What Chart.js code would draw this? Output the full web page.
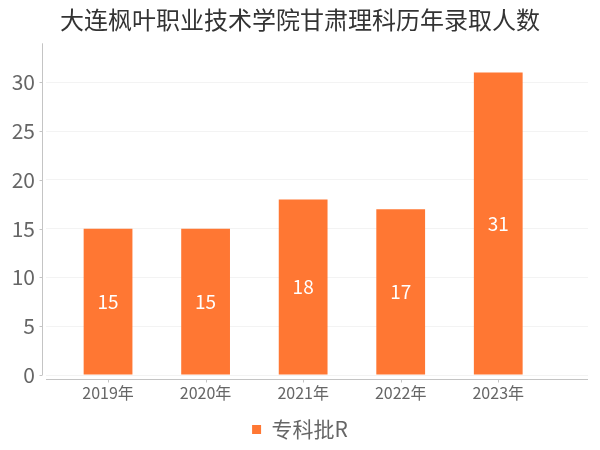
<!DOCTYPE html>
<html>
<head>
<meta charset="utf-8">
<script src="https://cdn.jsdelivr.net/npm/chart.js@4"></script>
<style>
  html, body { margin: 0; padding: 0; background: #fff; }
  #wrap { width: 600px; height: 450px; }
</style>
</head>
<body>
<div id="wrap"><canvas id="chart" width="600" height="450"></canvas></div>
<script>
// 数据
const years = ["2019年", "2020年", "2021年", "2022年", "2023年"];
const counts = [15, 15, 18, 17, 31];
const yTicks = [0, 5, 10, 15, 20, 25, 30];
const seriesName = "专科批R";
const titleText = "大连枫叶职业技术学院甘肃理科历年录取人数";

const FONT = "'Noto Sans CJK SC', 'Noto Sans', sans-serif";
const barColor = "#ff7733";
const axisColor = "#c4c4c4";

// 坐标轴线（与绘图区略微错开）
const axisLines = {
  id: "axisLines",
  afterDraw(chart) {
    const { ctx, chartArea, scales } = chart;
    const gap = 4;
    ctx.save();
    ctx.strokeStyle = axisColor;
    ctx.lineWidth = 1;
    // y 轴
    const ax = Math.round(chartArea.left - gap) + 0.5;
    ctx.beginPath();
    ctx.moveTo(ax, chartArea.top);
    ctx.lineTo(ax, chartArea.bottom);
    scales.y.ticks.forEach(t => {
      const py = Math.round(scales.y.getPixelForValue(t.value)) + 0.5;
      ctx.moveTo(ax - 3, py);
      ctx.lineTo(ax, py);
    });
    ctx.stroke();
    // x 轴
    const ay = Math.round(chartArea.bottom + gap) + 0.5;
    ctx.beginPath();
    ctx.moveTo(chartArea.left, ay);
    ctx.lineTo(chartArea.right, ay);
    scales.x.ticks.forEach(t => {
      const px = Math.round(scales.x.getPixelForValue(t.value)) + 0.5;
      ctx.moveTo(px, ay);
      ctx.lineTo(px, ay + 3);
    });
    ctx.stroke();
    ctx.restore();
  }
};

// 柱内数值
const barValues = {
  id: "barValues",
  afterDatasetsDraw(chart) {
    const { ctx } = chart;
    const meta = chart.getDatasetMeta(0);
    ctx.save();
    ctx.fillStyle = "#ffffff";
    ctx.font = "19px " + FONT;
    ctx.textAlign = "center";
    ctx.textBaseline = "middle";
    meta.data.forEach((bar, i) => {
      ctx.fillText(String(counts[i]), bar.x, (bar.y + bar.base) / 2);
    });
    ctx.restore();
  }
};

function renderChart() {
  const ctx = document.getElementById("chart").getContext("2d");
  new Chart(ctx, {
    type: "bar",
    data: {
      datasets: [{
        label: seriesName,
        data: counts.map((v, i) => ({ x: i, y: v })),
        backgroundColor: barColor,
        borderWidth: 0,
        barPercentage: 0.5,
        categoryPercentage: 1.0
      }]
    },
    options: {
      responsive: false,
      animation: false,
      layout: { padding: { left: 12, right: 12, top: 0, bottom: 0 } },
      scales: {
        x: {
          type: "linear",
          offset: false,
          min: -0.636,
          max: 4.92,
          afterBuildTicks: s => { s.ticks = years.map((_, i) => ({ value: i })); },
          afterFit: s => { s.height = 34; },
          grid: { display: false },
          border: { display: false },
          ticks: {
            padding: 0,
            color: "#666",
            font: { family: FONT, size: 16 },
            callback: v => years[v] ?? ""
          }
        },
        y: {
          min: 0,
          max: 34,
          afterBuildTicks: s => { s.ticks = yTicks.map(v => ({ value: v })); },
          afterFit: s => { s.width = 34; },
          grid: { color: "#f3f3f3", drawTicks: false },
          border: { display: false },
          ticks: {
            padding: 11,
            color: "#666",
            font: { family: FONT, size: 21 }
          }
        }
      },
      plugins: {
        title: {
          display: true,
          text: titleText,
          color: "#333",
          font: { family: FONT, size: 24, weight: "normal" },
          padding: { top: 5, bottom: 9.5 }
        },
        legend: {
          position: "bottom",
          labels: {
            boxWidth: 9,
            boxHeight: 9,
            color: "#666",
            padding: 10,
            font: { family: FONT, size: 21 }
          }
        },
        tooltip: { enabled: false }
      }
    },
    plugins: [axisLines, barValues]
  });
}

document.addEventListener("DOMContentLoaded", renderChart);
</script>
</body>
</html>
